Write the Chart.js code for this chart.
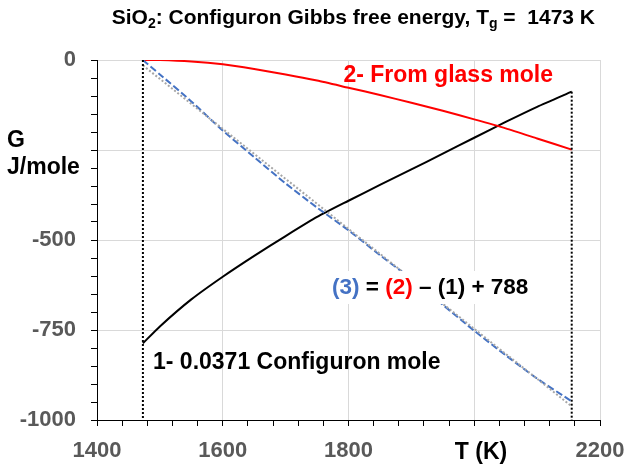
<!DOCTYPE html>
<html>
<head>
<meta charset="utf-8">
<script src="https://cdn.jsdelivr.net/npm/chart.js@4.4.1/dist/chart.umd.min.js"></script>
<style>
  body { margin: 0; background: #fff; }
  #wrap { width: 627px; height: 468px; position: relative; }
</style>
</head>
<body>
<div id="wrap"><canvas id="gibbs"></canvas></div>
<script>
// temperatures (K) shared by the three curves
const temps = [1473, 1500, 1550, 1600, 1650, 1700, 1750, 1800, 1850, 1900, 1950, 2000, 2050, 2100, 2155];
// 1- 0.0371 configuron mole
const gConfig = [-787, -740, -665, -602, -544, -489, -436, -391, -347, -304, -260, -216, -172, -130, -88];
// 2- from glass mole
const gGlass = [0, 0, -4, -12, -25, -40, -57, -77, -97, -119, -141, -165, -190, -218, -249];
// (3) = (2) - (1) + 788
const gDiff = [0, -40, -115, -196, -270, -343, -410, -473, -542, -608, -680, -752, -820, -885, -948];
// grey dotted straight line
const trendT = [1473, 2155];
const trendG = [-15, -962];
// vertical dotted markers
const leftMarkT = [1473, 1473];
const leftMarkG = [0, -1000];
const rightMarkT = [2155, 2155];
const rightMarkG = [-88, -1000];

// labelled ticks (2000 sits under the axis title)
const xTicks = [1400, 1600, 1800, 2200];
const yTicks = [0, -500, -750, -1000];

const FONT = '"Liberation Sans", Arial, sans-serif';

function pts(xs, ys) {
    return xs.map((x, i) => ({ x: x, y: ys[i] }));
}

function drawRuns(ctx, runs, x, y, size) {
    // runs of text, some as subscripts
    runs.forEach(r => {
        const s = r.sub ? Math.round(size * 0.65) : size;
        ctx.font = 'bold ' + s + 'px ' + FONT;
        ctx.fillStyle = r.color || '#000';
        ctx.fillText(r.t, x, r.sub ? y + size * 0.3 : y);
        x += ctx.measureText(r.t).width;
    });
}

function runsWidth(ctx, runs, size) {
    let w = 0;
    runs.forEach(r => {
        const s = r.sub ? Math.round(size * 0.65) : size;
        ctx.font = 'bold ' + s + 'px ' + FONT;
        w += ctx.measureText(r.t).width;
    });
    return w;
}

const textPlugin = {
    id: 'textPlugin',
    afterDraw(chart) {
        const ctx = chart.ctx;
        ctx.save();
        ctx.textBaseline = 'middle';
        ctx.textAlign = 'left';

        // title
        const title = [
            { t: 'SiO' }, { t: '2', sub: true },
            { t: ': Configuron Gibbs free energy, T' }, { t: 'g', sub: true },
            { t: ' =  1473 K' }
        ];
        const tw = runsWidth(ctx, title, 21);
        drawRuns(ctx, title, 595 - tw, 18, 21);

        // axis titles
        ctx.font = 'bold 23px ' + FONT;
        ctx.fillStyle = '#000';
        ctx.fillText('G', 7, 141);
        ctx.fillText('J/mole', 7, 168);
        ctx.textAlign = 'center';
        ctx.fillText('T (K)', 481, 453);

        // series labels
        ctx.textAlign = 'left';
        ctx.fillText('1- 0.0371 Configuron mole', 153, 363);
        ctx.textAlign = 'right';
        ctx.fillStyle = '#FF0000';
        ctx.fillText('2- From glass mole', 553, 76);

        ctx.textAlign = 'left';
        const eq = [
            { t: '(3)', color: '#4472C4' }, { t: ' = ' },
            { t: '(2)', color: '#FF0000' }, { t: ' \u2013 (1) + 788' }
        ];
        const ew = runsWidth(ctx, eq, 22.5);
        ctx.fillStyle = '#fff';
        ctx.fillRect(329, 271, ew + 6, 33);
        drawRuns(ctx, eq, 332, 288, 22.5);
        ctx.restore();
    }
};

new Chart(document.getElementById('gibbs'), {
    type: 'line',
    data: {
        datasets: [
            {
                data: pts(leftMarkT, leftMarkG),
                borderColor: '#000', borderWidth: 2, borderDash: [2, 2],
                pointRadius: 0
            },
            {
                data: pts(rightMarkT, rightMarkG),
                borderColor: '#000', borderWidth: 2, borderDash: [2, 2],
                pointRadius: 0
            },
            {
                data: pts(trendT, trendG),
                borderColor: '#A6A6A6', borderWidth: 2, borderDash: [2, 2],
                pointRadius: 0
            },
            {
                data: pts(temps, gDiff),
                borderColor: '#4472C4', borderWidth: 2, borderDash: [7, 3],
                pointRadius: 0, tension: 0.2
            },
            {
                data: pts(temps, gGlass),
                borderColor: '#FF0000', borderWidth: 2,
                pointRadius: 0, tension: 0.2
            },
            {
                data: pts(temps, gConfig),
                borderColor: '#000', borderWidth: 2,
                pointRadius: 0, tension: 0.2
            }
        ]
    },
    options: {
        responsive: true,
        maintainAspectRatio: false,
        animation: false,
        layout: { padding: { top: 60, right: 27, left: 0, bottom: 0 } },
        plugins: {
            legend: { display: false },
            title: { display: false },
            tooltip: { enabled: false }
        },
        scales: {
            x: {
                type: 'linear',
                min: 1400,
                max: 2200,
                afterFit: s => {
                    s.height = 48;
                    s.paddingLeft = 0;
                    s.paddingRight = 0;
                },
                afterBuildTicks: s => {
                    const t = [];
                    for (let v = 1400; v <= 2200; v += 40) t.push({ value: v });
                    s.ticks = t;
                },
                ticks: {
                    autoSkip: false,
                    maxRotation: 0,
                    padding: 12,
                    color: '#595959',
                    font: { family: FONT, size: 22, weight: 'bold' },
                    callback: v => xTicks.includes(v) ? v : ''
                },
                grid: {
                    color: c => (c.tick && c.tick.value % 200 === 0) ? '#D9D9D9' : 'rgba(0,0,0,0)',
                    lineWidth: 1,
                    tickColor: '#000',
                    tickLength: 6
                },
                border: { color: '#000', width: 1 }
            },
            y: {
                type: 'linear',
                min: -1000,
                max: 0,
                afterFit: s => { s.width = 97; },
                afterBuildTicks: s => {
                    const t = [];
                    for (let v = -1000; v <= 0; v += 50) t.push({ value: v });
                    s.ticks = t;
                },
                ticks: {
                    autoSkip: false,
                    padding: 15,
                    color: '#595959',
                    font: { family: FONT, size: 22, weight: 'bold' },
                    callback: v => yTicks.includes(v) ? v : ''
                },
                grid: {
                    color: c => (c.tick && c.tick.value % 250 === 0) ? '#D9D9D9' : 'rgba(0,0,0,0)',
                    lineWidth: 1,
                    tickColor: '#000',
                    tickLength: 6
                },
                border: { color: '#000', width: 1 }
            }
        }
    },
    plugins: [textPlugin]
});
</script>
</body>
</html>
